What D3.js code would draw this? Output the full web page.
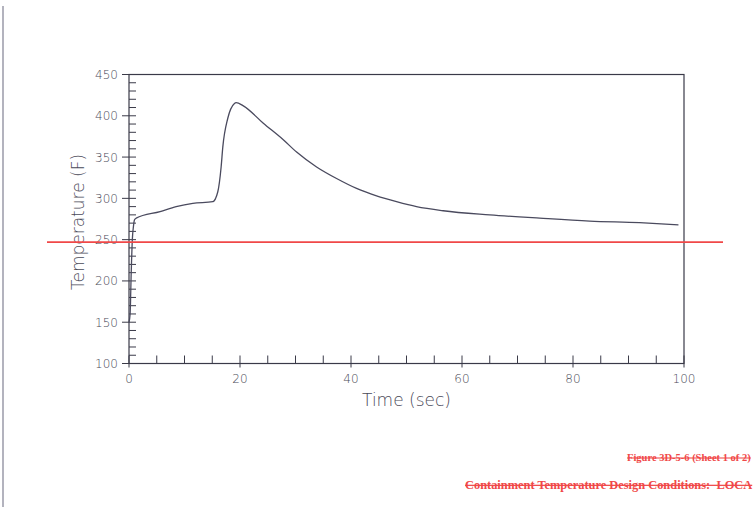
<!DOCTYPE html>
<html>
<head>
<meta charset="utf-8">
<script src="https://cdn.jsdelivr.net/npm/d3@7"></script>
<style>
  body { margin: 0; background: #fff; }
  svg { display: block; }
</style>
</head>
<body>
<div id="chart"></div>
<script>
// data
const times = [0, 0.2, 0.4, 0.6, 0.8, 1.0, 1.3, 5.6, 8.5, 11.5, 15.1, 16.0, 16.6, 16.9, 17.8, 19.0, 19.3,
  20.6, 24.2, 27.8, 30.2, 33.8, 37.4, 41.0, 44.6, 48.2, 51.8, 56.6, 65, 74, 83, 92, 99];
const temps = [150, 160, 210, 250, 266, 274, 276, 284, 290, 294, 296, 308, 338, 362, 397, 415, 416,
  412, 391, 371, 356, 338, 324, 312, 303, 296, 290, 285, 280, 276, 272.5, 270.5, 268];
const limitTemp = 247;
const xTicks = [0, 20, 40, 60, 80, 100];
const yTicks = [100, 150, 200, 250, 300, 350, 400, 450];

const W = 754, H = 507;
const plotL = 129, plotR = 684, plotT = 74.5, plotB = 363.5;
const axisColor = "#3a3a48";
const textColor = "#4a4a58";
const font = "'DejaVu Sans', sans-serif";

const svg = d3.select("#chart").append("svg")
  .attr("width", W).attr("height", H);

const x = d3.scaleLinear().domain([0, 100]).range([plotL, plotR]);
const y = d3.scaleLinear().domain([100, 450]).range([plotB, plotT]);

// page edge on the left
svg.append("line")
  .attr("x1", 3).attr("x2", 3).attr("y1", 6).attr("y2", H)
  .attr("stroke", "#9a9aa8").attr("stroke-width", 1.5);

// frame
svg.append("rect")
  .attr("x", plotL).attr("y", plotT)
  .attr("width", plotR - plotL).attr("height", plotB - plotT)
  .attr("fill", "none").attr("stroke", axisColor).attr("stroke-width", 1.2);

// y ticks
const yMinor = d3.range(100, 451, 10);
svg.append("g").selectAll("line").data(yMinor).join("line")
  .attr("x1", plotL).attr("x2", plotL + 7)
  .attr("y1", d => y(d)).attr("y2", d => y(d))
  .attr("stroke", axisColor).attr("stroke-width", 1);
svg.append("g").selectAll("line").data(yTicks).join("line")
  .attr("x1", plotL - 7).attr("x2", plotL)
  .attr("y1", d => y(d)).attr("y2", d => y(d))
  .attr("stroke", axisColor).attr("stroke-width", 1);
svg.append("g").selectAll("text").data(yTicks).join("text")
  .attr("x", plotL - 11).attr("y", d => y(d) + 4.5)
  .attr("text-anchor", "end")
  .attr("font-family", font).attr("font-size", 12).attr("font-weight", 300)
  .attr("fill", textColor)
  .text(d => d);

// x ticks
const xMinor = d3.range(0, 101, 5);
svg.append("g").selectAll("line").data(xMinor).join("line")
  .attr("x1", d => x(d)).attr("x2", d => x(d))
  .attr("y1", plotB).attr("y2", plotB - 8)
  .attr("stroke", axisColor).attr("stroke-width", 1);
svg.append("g").selectAll("line").data(xTicks).join("line")
  .attr("x1", d => x(d)).attr("x2", d => x(d))
  .attr("y1", plotB).attr("y2", plotB + 4)
  .attr("stroke", axisColor).attr("stroke-width", 1);
svg.append("g").selectAll("text").data(xTicks).join("text")
  .attr("x", d => x(d)).attr("y", plotB + 19)
  .attr("text-anchor", "middle")
  .attr("font-family", font).attr("font-size", 12).attr("font-weight", 300)
  .attr("fill", textColor)
  .text(d => d);

// axis titles
svg.append("text")
  .attr("x", (363 + 450) / 2).attr("y", 406)
  .attr("text-anchor", "middle")
  .attr("font-family", font).attr("font-size", 17).attr("font-weight", 300)
  .attr("fill", textColor)
  .text("Time (sec)");
svg.append("text")
  .attr("transform", "translate(84,222) rotate(-90)")
  .attr("text-anchor", "middle")
  .attr("font-family", font).attr("font-size", 17).attr("font-weight", 300)
  .attr("fill", textColor)
  .text("Temperature (F)");

// temperature curve
const pts = times.map((t, i) => ({ t: t, v: temps[i] }));
svg.append("path")
  .datum(pts)
  .attr("fill", "none")
  .attr("stroke", "#4a4a5e")
  .attr("stroke-width", 1.3)
  .attr("stroke-linejoin", "round")
  .attr("d", d3.line().curve(d3.curveMonotoneX).x(d => x(d.t)).y(d => y(d.v)));

// red limit line
svg.append("line")
  .attr("x1", 47).attr("x2", 723)
  .attr("y1", y(limitTemp)).attr("y2", y(limitTemp))
  .attr("stroke", "#f04848").attr("stroke-width", 1.6);

// red captions
svg.append("text")
  .attr("x", 627).attr("y", 461)
  .attr("font-family", "'Liberation Serif', serif").attr("font-size", 10.5).attr("font-weight", "bold")
  .attr("fill", "#f04848").attr("text-decoration", "line-through")
  .text("Figure 3D-5-6 (Sheet 1 of 2)");
svg.append("text")
  .attr("x", 465).attr("y", 489)
  .attr("font-family", "'Liberation Serif', serif").attr("font-size", 12.4).attr("font-weight", "bold")
  .attr("fill", "#f04848").attr("text-decoration", "line-through")
  .attr("xml:space", "preserve")
  .text("Containment Temperature Design Conditions:  LOCA");
</script>
</body>
</html>
